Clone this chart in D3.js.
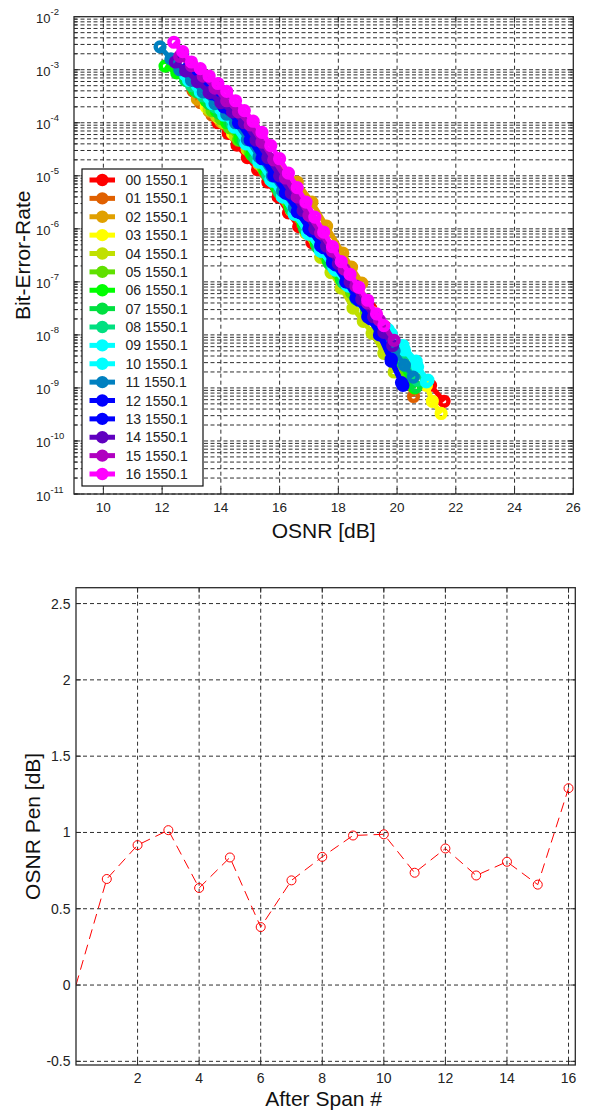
<!DOCTYPE html>
<html><head><meta charset="utf-8">
<script src="https://cdn.jsdelivr.net/npm/d3@7"></script>
<style>
body{margin:0;background:#fff}
text{font-family:"Liberation Sans",Arial,Helvetica,sans-serif;fill:#222}
</style>
</head><body>
<svg id="c" width="595" height="1114"></svg>
<script>
// ---------- DATA: top chart (BER vs OSNR) ----------
const seriesNames = ["00 1550.1","01 1550.1","02 1550.1","03 1550.1","04 1550.1","05 1550.1","06 1550.1","07 1550.1","08 1550.1","09 1550.1","10 1550.1","11 1550.1","12 1550.1","13 1550.1","14 1550.1","15 1550.1","16 1550.1"];
const seriesColors = ["#ff0000","#e06000","#e0a000","#ffff00","#c0e000","#60e000","#00ff00","#00e040","#00e080","#00ffff","#00ffff","#0080c0","#0000ff","#0000ff","#6000c0","#b000c0","#ff00ff"];
const osnrTicks = [10,12,14,16,18,20,22,24,26];
const berTickExponents = [-2,-3,-4,-5,-6,-7,-8,-9,-10,-11];

const s00 = [[13.90,1.0e-4],[14.25,6.3e-5],[14.55,3.8e-5],[14.90,2.2e-5],[15.25,1.3e-5],[15.60,7.6e-6],[15.95,4.0e-6],[16.30,2.0e-6],[16.65,1.1e-6],[17.10,5.5e-7],[17.60,2.9e-7],[18.10,1.4e-7],[18.60,6.6e-8],[19.10,3.2e-8],[19.60,1.4e-8],[20.00,6.3e-9],[20.60,2.4e-9],[21.14,1.12e-9],[21.60,5.6e-10]];
const s01 = [[13.05,4.0e-4],[13.30,2.4e-4],[13.70,1.4e-4],[14.10,9.5e-5],[14.60,5.0e-5],[15.05,2.5e-5],[15.50,1.15e-5],[15.95,5.2e-6],[16.40,2.5e-6],[16.85,1.15e-6],[17.30,5.0e-7],[17.75,2.3e-7],[18.20,1.05e-7],[18.65,4.7e-8],[19.10,2.1e-8],[19.55,8.9e-9],[19.95,3.5e-9],[20.30,1.4e-9],[20.56,6.9e-10]];
const s02 = [[13.20,2.8e-4],[13.60,1.66e-4],[14.00,1.05e-4],[14.50,6.0e-5],[15.00,3.5e-5],[15.50,2.2e-5],[16.00,1.4e-5],[16.60,7.6e-6],[17.10,3.2e-6],[17.60,1.12e-6],[18.15,3.5e-7],[18.45,1.9e-7],[18.80,9.5e-8]];
const s03 = [[13.50,2.0e-4],[13.90,1.26e-4],[14.40,6.3e-5],[14.90,3.2e-5],[15.40,1.5e-5],[15.85,7.1e-6],[16.30,3.2e-6],[16.80,1.4e-6],[17.25,6.3e-7],[17.75,2.8e-7],[18.20,1.3e-7],[18.70,6.0e-8],[19.20,2.6e-8],[19.70,1.1e-8],[20.15,5.0e-9],[20.60,2.4e-9],[21.00,1.12e-9],[21.20,5.6e-10],[21.50,3.3e-10]];
const s04 = [[13.60,1.8e-4],[13.85,1.35e-4],[14.10,1.0e-4],[14.50,5.6e-5],[14.90,3.2e-5],[15.30,1.66e-5],[15.70,8.3e-6],[16.05,4.4e-6],[16.40,2.2e-6],[16.90,8.3e-7],[17.40,2.9e-7],[17.75,1.5e-7],[18.10,7.6e-8],[18.50,3.2e-8],[18.85,1.8e-8],[19.15,1.07e-8],[19.55,4.5e-9],[19.90,2.0e-9]];
const s05 = [[13.70,1.7e-4],[14.00,1.2e-4],[14.30,8.0e-5],[14.60,4.7e-5],[15.00,2.8e-5],[15.45,1.4e-5],[15.85,7.1e-6],[16.25,3.4e-6],[16.70,1.6e-6],[17.15,7.1e-7],[17.55,3.2e-7],[18.00,1.4e-7],[18.45,6.3e-8],[18.95,2.8e-8],[19.40,1.26e-8],[19.85,4.5e-9],[20.30,1.6e-9]];
const s06 = [[12.10,1.17e-3],[12.50,8.7e-4],[12.85,6.3e-4],[13.10,4.2e-4],[13.50,2.6e-4],[13.85,1.66e-4],[14.20,1.0e-4],[14.65,5.0e-5],[15.05,2.5e-5],[15.50,1.26e-5],[15.90,6.0e-6],[16.35,2.6e-6],[16.80,1.2e-6],[17.25,5.2e-7],[17.65,2.5e-7],[18.10,1.12e-7],[18.60,5.0e-8],[19.05,2.3e-8],[19.55,1.0e-8],[20.05,3.3e-9],[20.60,1.0e-9]];
const s07 = [[12.80,6.3e-4],[13.20,3.8e-4],[13.60,2.3e-4],[13.95,1.5e-4],[14.30,1.0e-4],[14.75,4.5e-5],[15.15,2.2e-5],[15.60,1.0e-5],[16.00,4.8e-6],[16.40,2.3e-6],[16.85,1.0e-6],[17.30,4.5e-7],[17.70,2.2e-7],[18.15,1.0e-7],[18.60,4.8e-8],[19.10,2.2e-8],[19.60,1.0e-8],[20.10,3.4e-9],[20.65,1.05e-9]];
const s08 = [[13.00,5.0e-4],[13.40,3.2e-4],[13.80,2.0e-4],[14.10,1.4e-4],[14.40,9.5e-5],[14.80,4.6e-5],[15.20,2.1e-5],[15.60,1.05e-5],[16.00,5.0e-6],[16.45,2.2e-6],[16.90,1.0e-6],[17.35,4.5e-7],[17.80,2.0e-7],[18.20,9.5e-8],[18.70,4.7e-8],[19.20,2.1e-8],[19.70,1.0e-8],[20.20,3.8e-9],[20.70,1.4e-9]];
const s09 = [[12.90,6.3e-4],[13.30,3.8e-4],[13.70,2.3e-4],[14.10,1.4e-4],[14.45,8.3e-5],[14.85,4.0e-5],[15.30,1.8e-5],[15.70,8.3e-6],[16.10,4.0e-6],[16.50,1.9e-6],[16.95,8.3e-7],[17.40,3.8e-7],[17.85,1.8e-7],[18.30,8.7e-8],[18.80,4.2e-8],[19.30,2.1e-8],[19.80,1.05e-8],[20.25,5.2e-9],[20.70,2.5e-9],[21.05,1.4e-9]];
const s10 = [[12.80,7.9e-4],[13.20,5.0e-4],[13.60,3.0e-4],[14.00,1.8e-4],[14.50,8.9e-5],[14.90,4.2e-5],[15.30,1.9e-5],[15.75,7.9e-6],[16.10,4.0e-6],[16.50,1.9e-6],[17.00,7.9e-7],[17.40,3.8e-7],[17.90,1.66e-7],[18.35,8.3e-8],[18.80,4.5e-8],[19.25,2.4e-8],[19.70,1.26e-8],[20.20,6.3e-9],[20.65,3.2e-9],[21.00,1.3e-9]];
const s11 = [[11.93,2.7e-3],[12.30,1.6e-3],[12.60,1.0e-3],[13.00,6.3e-4],[13.40,3.8e-4],[13.80,2.3e-4],[14.20,1.45e-4],[14.50,1.0e-4],[14.90,4.8e-5],[15.30,2.3e-5],[15.75,1.0e-5],[16.10,5.2e-6],[16.50,2.5e-6],[17.00,1.0e-6],[17.40,5.0e-7],[17.80,2.5e-7],[18.30,1.0e-7],[18.70,4.7e-8],[19.10,2.2e-8],[19.50,1.0e-8],[19.90,5.0e-9],[20.25,2.7e-9],[20.55,1.6e-9]];
const s12 = [[12.90,1.12e-3],[13.30,6.3e-4],[13.70,3.5e-4],[14.10,2.0e-4],[14.60,1.0e-4],[15.00,4.7e-5],[15.40,2.1e-5],[15.80,1.0e-5],[16.20,4.7e-6],[16.60,2.1e-6],[17.00,1.0e-6],[17.40,4.8e-7],[17.80,2.3e-7],[18.25,1.0e-7],[18.60,5.0e-8],[19.00,2.2e-8],[19.40,1.0e-8],[19.80,3.2e-9],[20.20,1.12e-9]];
const s13 = [[12.70,2.0e-3],[13.10,1.05e-3],[13.50,5.6e-4],[13.90,3.2e-4],[14.30,1.8e-4],[14.70,1.0e-4],[15.10,4.8e-5],[15.50,2.2e-5],[15.90,1.0e-5],[16.30,4.5e-6],[16.70,2.0e-6],[17.10,9.1e-7],[17.50,4.4e-7],[17.90,2.1e-7],[18.30,1.0e-7],[18.70,4.5e-8],[19.10,2.0e-8],[19.45,1.0e-8],[19.80,3.5e-9],[20.15,1.26e-9]];
const s14 = [[12.45,1.4e-3],[12.80,9.5e-4],[13.20,6.0e-4],[13.60,3.7e-4],[14.00,2.4e-4],[14.40,1.6e-4],[14.80,1.0e-4],[15.20,4.7e-5],[15.60,2.2e-5],[16.00,1.0e-5],[16.40,4.7e-6],[16.80,2.2e-6],[17.20,1.0e-6],[17.60,4.7e-7],[18.00,2.2e-7],[18.40,1.0e-7],[18.80,4.7e-8],[19.20,2.2e-8],[19.55,1.12e-8],[19.85,6.3e-9]];
const s15 = [[12.60,1.78e-3],[13.00,1.2e-3],[13.40,7.6e-4],[13.80,4.5e-4],[14.20,2.6e-4],[14.60,1.6e-4],[15.00,9.1e-5],[15.40,4.3e-5],[15.80,2.0e-5],[16.20,9.1e-6],[16.60,4.0e-6],[17.00,1.8e-6],[17.40,8.3e-7],[17.80,3.8e-7],[18.20,1.74e-7],[18.60,8.3e-8],[19.00,4.0e-8],[19.40,1.9e-8],[19.90,7.9e-9]];
const s16 = [[12.40,3.3e-3],[12.70,2.2e-3],[13.00,1.4e-3],[13.30,1.05e-3],[13.60,7.6e-4],[13.90,5.5e-4],[14.20,3.9e-4],[14.50,2.6e-4],[14.80,1.7e-4],[15.10,1.07e-4],[15.40,6.6e-5],[15.70,3.7e-5],[16.00,2.1e-5],[16.30,1.12e-5],[16.60,6.0e-6],[16.90,3.2e-6],[17.20,1.66e-6],[17.50,8.7e-7],[17.80,4.6e-7],[18.10,2.4e-7],[18.40,1.38e-7],[18.70,7.9e-8],[19.00,4.5e-8],[19.30,2.5e-8],[19.55,1.5e-8]];
const berSeries = [s00,s01,s02,s03,s04,s05,s06,s07,s08,s09,s10,s11,s12,s13,s14,s15,s16];

// ---------- DATA: bottom chart (OSNR penalty per span) ----------
const spanIndex   = [0,1,2,3,4,5,6,7,8,9,10,11,12,13,14,15,16];
const osnrPenalty = [0,0.695,0.917,1.015,0.636,0.836,0.38,0.686,0.84,0.98,0.988,0.736,0.895,0.718,0.808,0.658,1.29];
const spanTicks = [2,4,6,8,10,12,14,16];
const penTicks = [-0.5,0,0.5,1,1.5,2,2.5];

const svg = d3.select("#c");
svg.append("rect").attr("width",595).attr("height",1114).attr("fill","#fff");

const GRID = "#2e2e2e", FRAME = "#2a2a2a";

// ================= TOP CHART =================
const T = {l:74, t:16.7, r:573.3, b:494};
const xT = d3.scaleLinear().domain([9,26]).range([T.l,T.r]);
const yT = d3.scaleLog().domain([1e-11,1e-2]).range([T.b,T.t]);
const gT = svg.append("g");

const minorVals = [];
berTickExponents.slice(1).forEach(e => { for (let m=1;m<=9;m++) minorVals.push(m*Math.pow(10,e)); });
const majorVals = berTickExponents.map(e => Math.pow(10,e));

gT.append("g").selectAll("line").data(minorVals).join("line")
  .attr("x1",T.l).attr("x2",T.r).attr("y1",d=>yT(d)).attr("y2",d=>yT(d))
  .attr("stroke",GRID).attr("stroke-width",1).attr("stroke-dasharray","4,2.5");
gT.append("g").selectAll("line").data(osnrTicks.filter(v=>v<26)).join("line")
  .attr("x1",d=>xT(d)).attr("x2",d=>xT(d)).attr("y1",T.t).attr("y2",T.b)
  .attr("stroke",GRID).attr("stroke-width",1).attr("stroke-dasharray","4,3");

// tick marks
const tkT = gT.append("g").attr("stroke",FRAME).attr("stroke-width",1);
majorVals.forEach(v=>{
  tkT.append("line").attr("x1",T.l).attr("x2",T.l+6).attr("y1",yT(v)).attr("y2",yT(v));
  tkT.append("line").attr("x1",T.r).attr("x2",T.r-6).attr("y1",yT(v)).attr("y2",yT(v));
});
minorVals.forEach(v=>{
  tkT.append("line").attr("x1",T.l).attr("x2",T.l+3).attr("y1",yT(v)).attr("y2",yT(v));
  tkT.append("line").attr("x1",T.r).attr("x2",T.r-3).attr("y1",yT(v)).attr("y2",yT(v));
});
osnrTicks.forEach(v=>{
  tkT.append("line").attr("x1",xT(v)).attr("x2",xT(v)).attr("y1",T.b).attr("y2",T.b-6);
  tkT.append("line").attr("x1",xT(v)).attr("x2",xT(v)).attr("y1",T.t).attr("y2",T.t+6);
});

// series
svg.append("clipPath").attr("id","clipT").append("rect")
  .attr("x",T.l).attr("y",T.t).attr("width",T.r-T.l).attr("height",T.b-T.t);
const gS = gT.append("g").attr("clip-path","url(#clipT)");
const lineT = d3.line().x(d=>xT(d[0])).y(d=>yT(d[1]));
berSeries.forEach((s,i)=>{
  const g = gS.append("g");
  g.append("path").attr("d",lineT(s)).attr("fill","none")
    .attr("stroke",seriesColors[i]).attr("stroke-width",5).attr("stroke-linejoin","round");
  g.selectAll("circle").data(s).join("circle")
    .attr("cx",d=>xT(d[0])).attr("cy",d=>yT(d[1])).attr("r",4.4)
    .attr("fill","none").attr("stroke",seriesColors[i]).attr("stroke-width",4.4);
});

gT.append("rect").attr("x",T.l).attr("y",T.t).attr("width",T.r-T.l).attr("height",T.b-T.t)
  .attr("fill","none").attr("stroke",FRAME).attr("stroke-width",1.3);

// tick labels
berTickExponents.forEach(e=>{
  const yy = yT(Math.pow(10,e));
  gT.append("text").attr("x",50.5).attr("y",yy+6.5).attr("text-anchor","end")
    .attr("font-size",13).text("10");
  gT.append("text").attr("x",50.5).attr("y",yy-1.5).attr("font-size",9.5).text("-"+Math.abs(e));
});
osnrTicks.forEach(v=>{
  gT.append("text").attr("x",xT(v)).attr("y",512).attr("text-anchor","middle")
    .attr("font-size",13.5).text(v);
});
gT.append("text").attr("x",(T.l+T.r)/2).attr("y",538).attr("text-anchor","middle")
  .attr("font-size",21).style("fill","#111").text("OSNR [dB]");
gT.append("text").attr("transform",`translate(30,${(T.t+T.b)/2}) rotate(-90)`)
  .attr("text-anchor","middle").attr("font-size",21).style("fill","#111").text("Bit-Error-Rate");

// legend
const L = {x:82, y:169, w:121, h:317, y0:180, dy:18.375};
const gL = gT.append("g");
gL.append("rect").attr("x",L.x).attr("y",L.y).attr("width",L.w).attr("height",L.h)
  .attr("fill","#fff").attr("stroke","#111").attr("stroke-width",1.2);
seriesNames.forEach((n,i)=>{
  const yy = L.y0 + i*L.dy;
  gL.append("line").attr("x1",89.5).attr("x2",115).attr("y1",yy).attr("y2",yy)
    .attr("stroke",seriesColors[i]).attr("stroke-width",5);
  gL.append("circle").attr("cx",102.3).attr("cy",yy).attr("r",4)
    .attr("fill","none").attr("stroke",seriesColors[i]).attr("stroke-width",4.4);
  gL.append("text").attr("x",125.5).attr("y",yy+5).attr("font-size",14).text(n);
});

// ================= BOTTOM CHART =================
const B = {l:76, t:587.7, r:575.3, b:1065};
const xB = d3.scaleLinear().domain([0,16.22]).range([B.l,B.r]);
const yB = d3.scaleLinear().domain([-0.524,2.604]).range([B.b,B.t]);
const gB = svg.append("g");

gB.append("g").selectAll("line").data(spanTicks).join("line")
  .attr("x1",d=>xB(d)).attr("x2",d=>xB(d)).attr("y1",B.t).attr("y2",B.b)
  .attr("stroke",GRID).attr("stroke-width",1).attr("stroke-dasharray","4,3");
gB.append("g").selectAll("line").data(penTicks).join("line")
  .attr("x1",B.l).attr("x2",B.r).attr("y1",d=>yB(d)).attr("y2",d=>yB(d))
  .attr("stroke",GRID).attr("stroke-width",1).attr("stroke-dasharray","4,3");

const tkB = gB.append("g").attr("stroke",FRAME).attr("stroke-width",1);
spanTicks.forEach(v=>{
  tkB.append("line").attr("x1",xB(v)).attr("x2",xB(v)).attr("y1",B.b).attr("y2",B.b-5);
  tkB.append("line").attr("x1",xB(v)).attr("x2",xB(v)).attr("y1",B.t).attr("y2",B.t+5);
});
penTicks.forEach(v=>{
  tkB.append("line").attr("x1",B.l).attr("x2",B.l+5).attr("y1",yB(v)).attr("y2",yB(v));
  tkB.append("line").attr("x1",B.r).attr("x2",B.r-5).attr("y1",yB(v)).attr("y2",yB(v));
});

const penData = spanIndex.map((s,i)=>[s,osnrPenalty[i]]);
svg.append("clipPath").attr("id","clipB").append("rect")
  .attr("x",B.l).attr("y",B.t).attr("width",B.r-B.l).attr("height",B.b-B.t);
const gP = gB.append("g").attr("clip-path","url(#clipB)");
gP.append("path").attr("d",d3.line().x(d=>xB(d[0])).y(d=>yB(d[1]))(penData))
  .attr("fill","none").attr("stroke","#ff0000").attr("stroke-width",1).attr("stroke-dasharray","10,6");
gP.selectAll("circle").data(penData.filter(d=>d[0]>0)).join("circle")
  .attr("cx",d=>xB(d[0])).attr("cy",d=>yB(d[1])).attr("r",4.5)
  .attr("fill","none").attr("stroke","#ff0000").attr("stroke-width",1);

gB.append("rect").attr("x",B.l).attr("y",B.t).attr("width",B.r-B.l).attr("height",B.b-B.t)
  .attr("fill","none").attr("stroke",FRAME).attr("stroke-width",1.3);

penTicks.forEach(v=>{
  gB.append("text").attr("x",70.5).attr("y",yB(v)+5).attr("text-anchor","end")
    .attr("font-size",14).text(v);
});
spanTicks.forEach(v=>{
  gB.append("text").attr("x",xB(v)).attr("y",1083).attr("text-anchor","middle")
    .attr("font-size",14).text(v);
});
gB.append("text").attr("x",(B.l+B.r)/2 - 2).attr("y",1106).attr("text-anchor","middle")
  .attr("font-size",21).style("fill","#111").text("After Span #");
gB.append("text").attr("transform",`translate(40,${(B.t+B.b)/2}) rotate(-90)`)
  .attr("text-anchor","middle").attr("font-size",21).style("fill","#111").text("OSNR Pen [dB]");
</script>
</body></html>
